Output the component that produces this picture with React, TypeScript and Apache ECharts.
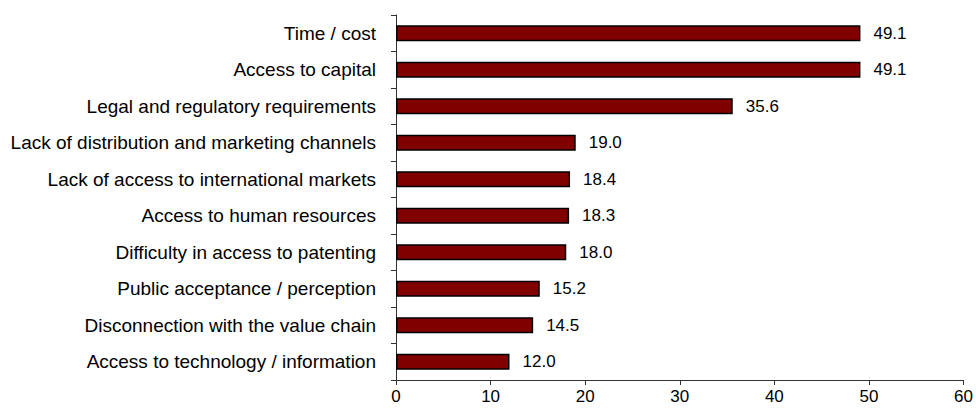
import React, { useEffect, useRef } from "react";
import * as echarts from "echarts";

const categories = [
  "Time / cost",
  "Access to capital",
  "Legal and regulatory requirements",
  "Lack of distribution and marketing channels",
  "Lack of access to international markets",
  "Access to human resources",
  "Difficulty in access to patenting",
  "Public acceptance / perception",
  "Disconnection with the value chain",
  "Access to technology / information",
];
const values = [49.1, 49.1, 35.6, 19.0, 18.4, 18.3, 18.0, 15.2, 14.5, 12.0];
const xTicks = { min: 0, max: 60, interval: 10 };

export default function App() {
  const ref = useRef<HTMLDivElement>(null);
  useEffect(() => {
    if (!ref.current) return;
    const chart = echarts.init(ref.current, null, { renderer: "svg" });
    const font = "Liberation Sans, Arial, sans-serif";
    chart.setOption({
      animation: false,
      grid: { left: 396, right: 12, top: 15, bottom: 28, containLabel: false },
      xAxis: {
        type: "value",
        min: xTicks.min,
        max: xTicks.max,
        interval: xTicks.interval,
        splitLine: { show: false },
        axisLine: { show: true, lineStyle: { color: "#333", width: 1 } },
        axisTick: { show: true, length: 5, lineStyle: { color: "#333" } },
        axisLabel: { color: "#000", fontSize: 17, fontFamily: font, margin: 8 },
      },
      yAxis: {
        type: "category",
        data: categories,
        inverse: true,
        axisLine: { show: true, lineStyle: { color: "#333", width: 1 } },
        axisTick: { show: true, length: 5, lineStyle: { color: "#333" } },
        axisLabel: { color: "#000", fontSize: 19, fontFamily: font, margin: 20 },
      },
      series: [
        {
          type: "bar",
          data: values,
          barWidth: 16,
          itemStyle: { color: "#800000", borderColor: "#000", borderWidth: 1.5 },
          label: {
            show: true,
            position: "right",
            distance: 13,
            color: "#000",
            fontSize: 17,
            fontFamily: font,
            formatter: (p: any) => Number(p.value).toFixed(1),
          },
        },
      ],
    });
    return () => chart.dispose();
  }, []);
  return (
    <div
      ref={ref}
      style={{ position: "fixed", left: 0, top: 0, width: 976, height: 408, background: "#fff" }}
    />
  );
}
